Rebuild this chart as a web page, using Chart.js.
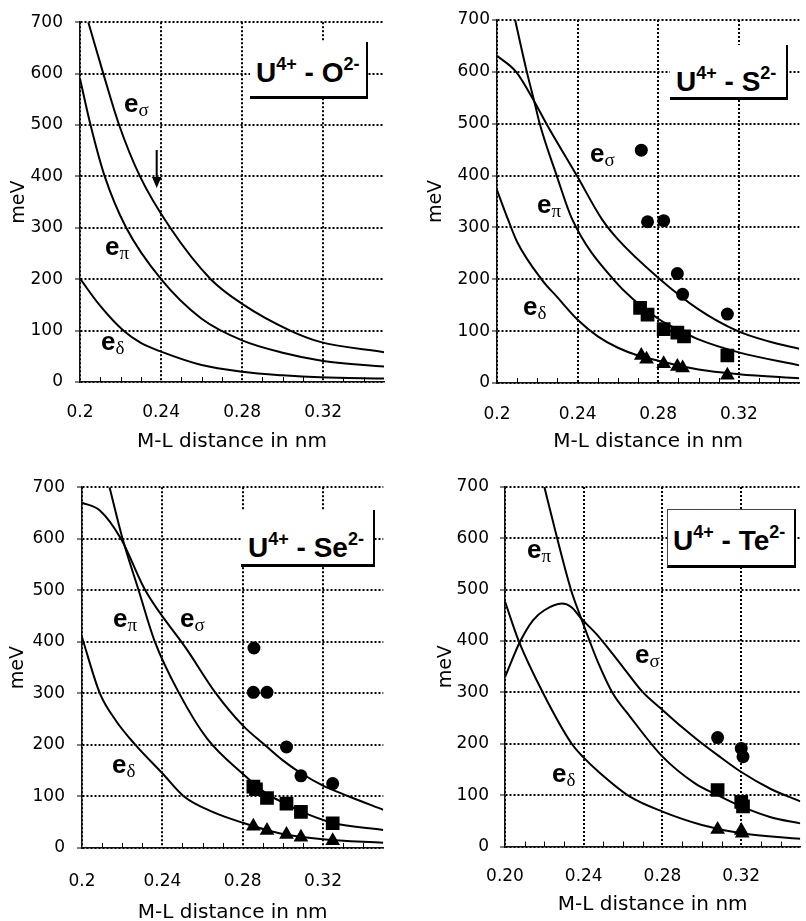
<!DOCTYPE html>
<html>
<head>
<meta charset="utf-8">
<title>U4+ ligand field parameters vs. M-L distance</title>
<script src="https://cdn.jsdelivr.net/npm/chart.js@4.4.1/dist/chart.umd.min.js"></script>
<style>
    html, body { margin: 0; padding: 0; width: 806px; height: 921px; overflow: hidden; background: #fff; }
    canvas { position: absolute; }
    .tag { position: absolute; z-index: 2; background: #fff; border-right: 2.5px solid #000; border-bottom: 3px solid #000; }
    .tag span { position: absolute; white-space: nowrap; font: bold 28px "Liberation Sans", Arial, sans-serif; line-height: 28px; color: #000; }
    .tag sup { font-size: 18px; line-height: 0; vertical-align: 12px; }
    .elab { position: absolute; z-index: 2; white-space: nowrap; font: bold 26px "Liberation Sans", Arial, sans-serif; line-height: 26px; color: #000; }
    .elab sub { font: 19px "Liberation Serif", serif; line-height: 0; vertical-align: -4px; }
    svg { position: absolute; z-index: 2; }
</style>
</head>
<body>

<canvas id="cO"></canvas>
<canvas id="cS"></canvas>
<canvas id="cSe"></canvas>
<canvas id="cTe"></canvas>

<!-- panel labels -->
<div class="tag" style="left:250px;top:42px;width:116px;height:54px;"><span style="left:6px;top:17px;">U<sup>4+</sup> - O<sup>2-</sup></span></div>
<div class="tag" style="left:670px;top:45px;width:116px;height:52px;"><span style="left:6px;top:23px;">U<sup>4+</sup> - S<sup>2-</sup></span></div>
<div class="tag" style="left:241px;top:510px;width:132px;height:54px;"><span style="left:7px;top:24px;">U<sup>4+</sup> - Se<sup>2-</sup></span></div>
<div class="tag" style="left:667px;top:509px;width:126px;height:55px;border-top:1px solid #444;border-left:1px solid #444;"><span style="left:5px;top:17px;">U<sup>4+</sup> - Te<sup>2-</sup></span></div>

<!-- curve labels -->
<div class="elab" style="left:124px;top:90px;">e<sub>σ</sub></div>
<div class="elab" style="left:105px;top:233px;">e<sub>π</sub></div>
<div class="elab" style="left:101px;top:328px;">e<sub>δ</sub></div>

<div class="elab" style="left:590px;top:140px;">e<sub>σ</sub></div>
<div class="elab" style="left:537px;top:191px;">e<sub>π</sub></div>
<div class="elab" style="left:523px;top:293px;">e<sub>δ</sub></div>

<div class="elab" style="left:113px;top:605px;">e<sub>π</sub></div>
<div class="elab" style="left:180px;top:605px;">e<sub>σ</sub></div>
<div class="elab" style="left:112px;top:751px;">e<sub>δ</sub></div>

<div class="elab" style="left:527px;top:536px;">e<sub>π</sub></div>
<div class="elab" style="left:635px;top:641px;">e<sub>σ</sub></div>
<div class="elab" style="left:552px;top:760px;">e<sub>δ</sub></div>

<svg style="left:151px;top:148px;" width="12" height="42">
    <line x1="5.7" y1="2" x2="5.7" y2="32" stroke="#000" stroke-width="2"/>
    <polygon points="1,29 10.4,29 5.7,40" fill="#000"/>
</svg>

<script>
// axis ticks
const xTickValues = [0.2, 0.24, 0.28, 0.32];
const xLabelsShort = ['0.2', '0.24', '0.28', '0.32'];
const xLabelsLong = ['0.20', '0.24', '0.28', '0.32'];
const yTickValues = [0, 100, 200, 300, 400, 500, 600, 700];
const minorXTicks = [0.21, 0.22, 0.23, 0.25, 0.26, 0.27, 0.29, 0.30, 0.31, 0.33, 0.34];

// U4+ - O2- curves [nm, meV]
const oSigma = [[0.2041, 700], [0.2115, 600], [0.2193, 500], [0.2296, 400], [0.2445, 300], [0.2645, 200], [0.28, 152], [0.3037, 100], [0.3185, 78], [0.35, 58]];
const oPi = [[0.2, 590], [0.2052, 500], [0.2122, 400], [0.2228, 300], [0.24, 200], [0.26, 123], [0.28, 81], [0.30, 57], [0.32, 41], [0.35, 30]];
const oDelta = [[0.2, 201], [0.21, 148], [0.2214, 100], [0.23, 76], [0.24, 59], [0.26, 33], [0.28, 20], [0.30, 13], [0.3185, 9], [0.35, 7]];

// U4+ - S2-
const sSigma = [[0.2, 631], [0.2095, 600], [0.2185, 543], [0.2245, 500], [0.2396, 400], [0.2522, 315], [0.26, 277], [0.28, 203], [0.30, 142], [0.3195, 100], [0.335, 80], [0.35, 66]];
const sPi = [[0.209, 700], [0.2148, 600], [0.2185, 543], [0.2212, 500], [0.2296, 400], [0.2374, 315], [0.2577, 200], [0.28, 124], [0.2916, 100], [0.30, 84], [0.32, 59], [0.35, 34]];
const sDelta = [[0.2, 372], [0.2055, 315], [0.21, 272], [0.2221, 200], [0.23, 165], [0.24, 122], [0.25, 90], [0.26, 68], [0.27, 53], [0.28, 43], [0.30, 26], [0.32, 17], [0.35, 9]];
const sCircles = [[0.2716, 449], [0.2747, 311], [0.2827, 313], [0.2895, 211], [0.2921, 171], [0.3143, 133]];
const sSquares = [[0.2710, 145], [0.2747, 132], [0.2827, 104], [0.2895, 97], [0.2928, 90], [0.3143, 53]];
const sTriangles = [[0.2716, 53], [0.2742, 46], [0.2827, 37], [0.2895, 32], [0.2921, 29], [0.3143, 15]];

// U4+ - Se2-
const seSigma = [[0.2, 670], [0.2089, 655], [0.2194, 600], [0.2315, 500], [0.2526, 383], [0.2663, 302], [0.28, 238], [0.2913, 199], [0.30, 170], [0.3087, 146], [0.32, 121], [0.333, 100], [0.35, 74]];
const sePi = [[0.2137, 700], [0.2202, 600], [0.2282, 500], [0.2363, 400], [0.2484, 300], [0.2623, 212], [0.28, 144], [0.2921, 105], [0.3018, 85], [0.309, 71], [0.3246, 49], [0.35, 35]];
const seDelta = [[0.2, 409], [0.2089, 300], [0.2169, 247], [0.2266, 200], [0.24, 145], [0.2508, 100], [0.265, 70], [0.28, 49], [0.30, 27], [0.32, 17], [0.35, 10]];
const seCircles = [[0.2856, 388], [0.2853, 302], [0.2921, 302], [0.3018, 196], [0.309, 140], [0.3248, 125]];
const seSquares = [[0.2853, 119], [0.2866, 114], [0.2921, 97], [0.3018, 86], [0.309, 70], [0.3248, 48]];
const seTriangles = [[0.2853, 42], [0.2921, 34], [0.3018, 26], [0.309, 21], [0.3248, 14]];

// U4+ - Te2-
const teSigma = [[0.2, 330], [0.2078, 400], [0.2143, 441], [0.22, 460], [0.2289, 473], [0.2338, 466], [0.2387, 444], [0.2466, 413], [0.26, 349], [0.2701, 300], [0.28, 266], [0.29, 232], [0.298, 207], [0.308, 178], [0.32, 145], [0.335, 112], [0.35, 88]];
const tePi = [[0.22, 700], [0.2265, 600], [0.2335, 500], [0.2387, 444], [0.243, 400], [0.2471, 360], [0.2545, 300], [0.2635, 253], [0.28, 175], [0.2965, 123], [0.308, 100], [0.32, 78], [0.335, 57], [0.35, 45]];
const teDelta = [[0.2, 477], [0.207, 400], [0.2192, 300], [0.2339, 200], [0.24, 173], [0.2471, 147], [0.2635, 97], [0.28, 68], [0.30, 42], [0.32, 26], [0.35, 15]];
const teCircles = [[0.308, 212], [0.32, 191], [0.3209, 175]];
const teSquares = [[0.308, 110], [0.32, 87], [0.3209, 78]];
const teTriangles = [[0.308, 33], [0.32, 31], [0.3205, 26]];

const FONT = '"DejaVu Sans", "Liberation Sans", sans-serif';
Chart.defaults.color = '#000';

// small upward ticks every 0.01 nm on the distance axis
const minorTicks = {
    id: 'minorTicks',
    afterDraw(chart) {
        const ctx = chart.ctx;
        const x = chart.scales.x;
        const bottom = chart.chartArea.bottom;
        ctx.save();
        ctx.strokeStyle = '#000';
        ctx.lineWidth = 1;
        ctx.beginPath();
        minorXTicks.forEach(v => {
            const px = Math.round(x.getPixelForValue(v)) + 0.5;
            ctx.moveTo(px, bottom);
            ctx.lineTo(px, bottom - 5);
        });
        ctx.stroke();
        ctx.restore();
    }
};

function toXY(pts) {
    return pts.map(p => ({ x: p[0], y: p[1] }));
}

function curve(pts) {
    return {
        data: toXY(pts),
        showLine: true,
        borderColor: '#000',
        borderWidth: 2,
        pointRadius: 0,
        cubicInterpolationMode: 'monotone',
        fill: false
    };
}

function marks(pts, style, r) {
    return {
        data: toXY(pts),
        showLine: false,
        pointStyle: style,
        pointRadius: r,
        backgroundColor: '#000',
        borderColor: '#000',
        borderWidth: 0
    };
}

function makePanel(p) {
    const cv = document.getElementById(p.id);
    const xh = p.titleY + 12 + 2 - p.B;
    cv.width = p.R + 2 - p.cx;
    cv.height = p.B + xh - p.cy;
    cv.style.left = p.cx + 'px';
    cv.style.top = p.cy + 'px';

    new Chart(cv, {
        type: 'scatter',
        data: { datasets: p.datasets },
        options: {
            responsive: false,
            animation: false,
            events: [],
            layout: { padding: { left: 0, top: p.T - p.cy, right: 2, bottom: 0 } },
            plugins: { legend: { display: false }, tooltip: { enabled: false } },
            scales: {
                x: {
                    type: 'linear',
                    min: 0.2,
                    max: 0.35,
                    afterBuildTicks: a => { a.ticks = xTickValues.map(v => ({ value: v })); },
                    afterFit: a => { a.height = xh; },
                    ticks: {
                        autoSkip: false,
                        maxRotation: 0,
                        padding: p.xLabelY - p.B - 10.2,
                        font: { family: FONT, size: 17 },
                        callback: (v, i) => p.xLabels[i]
                    },
                    grid: { color: '#000', lineWidth: 2, drawTicks: false },
                    border: { display: true, color: '#111', width: 1.5, dash: [2, 2] },
                    title: {
                        display: true,
                        text: 'M-L distance in nm',
                        font: { family: FONT, size: 20 },
                        padding: { top: 0, bottom: 2 }
                    }
                },
                y: {
                    type: 'linear',
                    min: 0,
                    max: 700,
                    afterBuildTicks: a => { a.ticks = yTickValues.map(v => ({ value: v })); },
                    afterFit: a => { a.width = p.L - p.cx; },
                    ticks: {
                        padding: p.yPad,
                        font: { family: FONT, size: 17 }
                    },
                    grid: { color: '#000', lineWidth: 2, drawTicks: true, tickLength: 5, tickColor: '#000', tickWidth: 1, tickBorderDash: [] },
                    border: { display: true, color: '#111', width: 1.5, dash: [2, 2] },
                    title: {
                        display: true,
                        text: 'meV',
                        font: { family: FONT, size: 19 },
                        padding: { top: p.yTitleX - p.cx - 11.4, bottom: 0 }
                    }
                }
            }
        },
        plugins: [minorTicks]
    });
}

const panels = [
    {
        id: 'cO', cx: 0, cy: 0, L: 80, T: 21, R: 384, B: 382,
        yTitleX: 19, yPad: 12, xLabelY: 413, titleY: 442, xLabels: xLabelsShort,
        datasets: [curve(oSigma), curve(oPi), curve(oDelta)]
    },
    {
        id: 'cS', cx: 420, cy: 0, L: 497, T: 20, R: 807, B: 383,
        yTitleX: 436.5, yPad: 2, xLabelY: 414.5, titleY: 442, xLabels: xLabelsShort,
        datasets: [curve(sSigma), curve(sPi), curve(sDelta),
            marks(sCircles, 'circle', 6.5), marks(sSquares, 'rect', 9.7), marks(sTriangles, 'triangle', 8.5)]
    },
    {
        id: 'cSe', cx: 0, cy: 465, L: 82, T: 485, R: 391, B: 848,
        yTitleX: 18.5, yPad: 12, xLabelY: 881.7, titleY: 913, xLabels: xLabelsShort,
        datasets: [curve(seSigma), curve(sePi), curve(seDelta),
            marks(seCircles, 'circle', 6.5), marks(seSquares, 'rect', 9.7), marks(seTriangles, 'triangle', 8.5)]
    },
    {
        id: 'cTe', cx: 420, cy: 465, L: 505, T: 487, R: 808, B: 846.5,
        yTitleX: 446.5, yPad: 11, xLabelY: 876.7, titleY: 905, xLabels: xLabelsLong,
        datasets: [curve(teSigma), curve(tePi), curve(teDelta),
            marks(teCircles, 'circle', 6.5), marks(teSquares, 'rect', 9.7), marks(teTriangles, 'triangle', 8.5)]
    }
];

panels.forEach(makePanel);
</script>
</body>
</html>
